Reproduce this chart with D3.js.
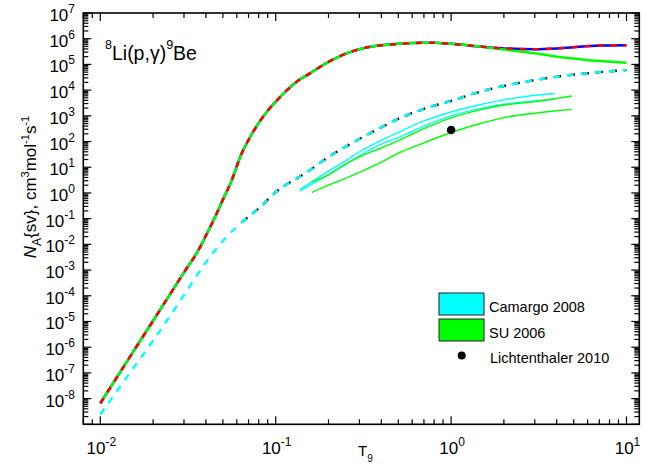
<!DOCTYPE html>
<html><head><meta charset="utf-8">
<script src="https://cdn.jsdelivr.net/npm/d3@7"></script>
<style>body{margin:0;background:#fff}svg{display:block}text{font-family:Arial,"Liberation Sans",sans-serif;fill:#000}</style>
</head><body><div id="chart"></div>
<script>
// ---- data ----
const mainT    = [0.01,0.015,0.02,0.03,0.037,0.04,0.045,0.05,0.056,0.063,0.07,0.08,0.09,0.1,0.116,0.135,0.157,0.2,0.23,0.25,0.3,0.4,0.5,0.6,0.7,0.8,1.0,1.5,2,3,4,5,7,10];
const mainRate = [6.6e-9,5.0e-7,1.07e-5,8.1e-4,7.6e-3,2.2e-2,0.112,0.55,2.95,27,115,525,1.58e3,3.55e3,1.0e4,2.4e4,4.5e4,1.26e5,2.0e5,2.6e5,3.9e5,5.6e5,6.3e5,6.8e5,6.9e5,6.9e5,6.3e5,4.9e5,4.2e5,3.9e5,4.2e5,4.7e5,5.4e5,5.6e5];
const suHighT    = [1.0,1.5,2,3,4,5,7,10];
const suHighRate = [6.3e5,4.9e5,3.8e5,2.7e5,2.0e5,1.7e5,1.35e5,1.17e5];
const dirT    = [0.01,0.015,0.02,0.03,0.04,0.05,0.06,0.07,0.08,0.1,0.15,0.2,0.3,0.4,0.5,0.7,1.0,1.5,2,3,5,7,10];
const dirRate = [2.4e-9,1.17e-7,1.8e-6,1.05e-4,2.0e-3,1.35e-2,4.8e-2,0.12,0.25,1.07,6.3,25,126,355,760,1.86e3,3.8e3,9.1e3,1.45e4,2.45e4,4.0e4,5.0e4,6.0e4];
const camHiT    = [0.138,0.2,0.25,0.3,0.4,0.5,0.7,1.0,1.5,2,3,3.91];
const camHiRate = [1.38,7.1,17.8,40,112,224,631,1410,2820,4170,6310,7410];
const camLoT    = [0.137,0.2,0.25,0.3,0.4,0.5,0.7,1.0,1.5,2,3,3.91];
const camLoRate = [1.17,5.2,12.6,28,79,141,398,1000,2000,2820,3800,4370];
const suUpT    = [0.161,0.2,0.233,0.316,0.4,0.512,0.7,1.0,1.5,2,3,4,4.88];
const suUpRate = [2.7,5.0,10,29.5,56,117,316,832,1780,2630,3550,4790,5890];
const suLoT    = [0.161,0.2,0.25,0.3,0.4,0.5,0.7,1.0,1.5,2,3,4,4.88];
const suLoRate = [1.05,2.0,3.7,6.3,15.8,35.5,89,224,525,851,1260,1580,1780];
const lichT = [1.0], lichRate = [2.8e2], lichLo = [2.35e2], lichHi = [3.3e2];
const xTickExp = [-2,-1,0,1];
const yTickExp = [-8,-7,-6,-5,-4,-3,-2,-1,0,1,2,3,4,5,6,7];
const legendLabels = ["Camargo 2008","SU 2006","Lichtenthaler 2010"];

// ---- layout ----
const W=649,H=468, L=83.3, R=639.3, T=13, B=424.3;
const svg=d3.select("#chart").append("svg").attr("width",W).attr("height",H);
const x=d3.scaleLog().domain([0.008,11.83]).range([L,R]);
const y=d3.scaleLog().domain([1e-9,1e7]).range([B,T]);
const zip=(a,b)=>a.map((d,i)=>[d,b[i]]);
const line=d3.line().x(d=>x(d[0])).y(d=>y(d[1])).curve(d3.curveMonotoneX);

const g=svg.append("g");
// lower (direct capture) dashed: black + cyan
g.append("path").datum(zip(dirT,dirRate).filter(d=>d[0]>=0.055)).attr("d",line)
 .attr("fill","none").attr("stroke","#000").attr("stroke-width",2.4).attr("stroke-dasharray","7,7").attr("stroke-dashoffset",7);
g.append("path").datum(zip(dirT,dirRate)).attr("d",line)
 .attr("fill","none").attr("stroke","#00ffff").attr("stroke-width",2.4).attr("stroke-dasharray","7,7");
// bands
[[camHiT,camHiRate,"#00ffff"],[camLoT,camLoRate,"#00ffff"],[suUpT,suUpRate,"#00ff00"],[suLoT,suLoRate,"#00ff00"]].forEach(s=>{
  g.append("path").datum(zip(s[0],s[1])).attr("d",line).attr("fill","none").attr("stroke",s[2]).attr("stroke-width",1.4);
});
// main curves
g.append("path").datum(zip(mainT,mainRate)).attr("d",line).attr("fill","none").attr("stroke","#0000ff").attr("stroke-width",2.5);
const suFull=zip(mainT,mainRate).filter(d=>d[0]<1.0).concat(zip(suHighT,suHighRate));
g.append("path").datum(suFull).attr("d",line).attr("fill","none").attr("stroke","#00ff00").attr("stroke-width",2.5);
g.append("path").datum(zip(mainT,mainRate)).attr("d",line).attr("fill","none").attr("stroke","#ff0000").attr("stroke-width",2.5).attr("stroke-dasharray","6,7");
// Lichtenthaler point
lichT.forEach((t,i)=>{
  g.append("line").attr("x1",x(t)).attr("x2",x(t)).attr("y1",y(lichLo[i])).attr("y2",y(lichHi[i])).attr("stroke","#000").attr("stroke-width",1.5);
  g.append("circle").attr("cx",x(t)).attr("cy",y(lichRate[i])).attr("r",4.3).attr("fill","#000");
});

// ---- axes ----
const ax=svg.append("g").attr("stroke","#000");
ax.append("rect").attr("x",L).attr("y",T).attr("width",R-L).attr("height",B-T).attr("fill","none").attr("stroke-width",1.6);
function minorTicks(scale,lo,hi){const out=[];for(let e=lo;e<=hi;e++)for(let m=1;m<=9;m++){const v=m*Math.pow(10,e);const d=scale.domain();if(v>=d[0]*0.999&&v<=d[1]*1.001)out.push([v,m===1]);}return out;}
minorTicks(x,-3,1).forEach(([v,maj])=>{
  const px=x(v), len=maj?8:5;
  ax.append("line").attr("x1",px).attr("x2",px).attr("y1",B).attr("y2",B-len).attr("stroke-width",1.2);
  ax.append("line").attr("x1",px).attr("x2",px).attr("y1",T).attr("y2",T+len).attr("stroke-width",1.2);
});
minorTicks(y,-9,7).forEach(([v,maj])=>{
  const py=y(v), len=maj?8:5;
  ax.append("line").attr("x1",L).attr("x2",L+len).attr("y1",py).attr("y2",py).attr("stroke-width",1.2);
  ax.append("line").attr("x1",R).attr("x2",R-len).attr("y1",py).attr("y2",py).attr("stroke-width",1.2);
});
// tick labels
yTickExp.forEach(e=>{
  const t=svg.append("text").attr("x",75).attr("y",y(Math.pow(10,e))+8).attr("text-anchor","end").style("font-size","17px");
  t.append("tspan").text("10");
  t.append("tspan").attr("dy",-8).style("font-size","12px").text(e);
});
xTickExp.forEach(e=>{
  const t=svg.append("text").attr("x",x(Math.pow(10,e))+1).attr("y",454).attr("text-anchor","middle").style("font-size","17px");
  t.append("tspan").text("10");
  t.append("tspan").attr("dy",-8).style("font-size","12px").text(e);
});
// axis titles
const xt=svg.append("text").attr("x",358).attr("y",456).style("font-size","15px");
xt.append("tspan").text("T");
xt.append("tspan").attr("dy",6).style("font-size","10px").text("9");
const yt=svg.append("text").attr("transform","translate(36,187) rotate(-90)").attr("text-anchor","middle").style("font-size","17px");
yt.append("tspan").style("font-style","italic").text("N");
yt.append("tspan").attr("dy",5).style("font-size","12px").text("A");
yt.append("tspan").attr("dy",-5).text("{sv}, cm");
yt.append("tspan").attr("dy",-7).style("font-size","11px").text("3");
yt.append("tspan").attr("dy",7).text("mol");
yt.append("tspan").attr("dy",-7).style("font-size","11px").text("-1");
yt.append("tspan").attr("dy",7).text("s");
yt.append("tspan").attr("dy",-7).style("font-size","11px").text("-1");
// reaction label
const rl=svg.append("text").attr("x",105).attr("y",60).style("font-size","19.5px");
rl.append("tspan").attr("dy",-11).style("font-size","12.5px").text("8");
rl.append("tspan").attr("dy",11).text("Li(p,γ)");
rl.append("tspan").attr("dy",-11).style("font-size","12.5px").text("9");
rl.append("tspan").attr("dy",11).text("Be");
// legend
const lg=svg.append("g");
[["#00ffff",293],["#00ff00",319]].forEach((d,i)=>{
  lg.append("rect").attr("x",439).attr("y",d[1]).attr("width",45).attr("height",22).attr("fill",d[0]).attr("stroke","#222").attr("stroke-width",1);
  lg.append("text").attr("x",489).attr("y",d[1]+18.5).style("font-size","14.5px").text(legendLabels[i]);
});
lg.append("circle").attr("cx",461.7).attr("cy",355.5).attr("r",4).attr("fill","#000");
lg.append("text").attr("x",490).attr("y",363).style("font-size","14.5px").text(legendLabels[2]);
</script></body></html>
